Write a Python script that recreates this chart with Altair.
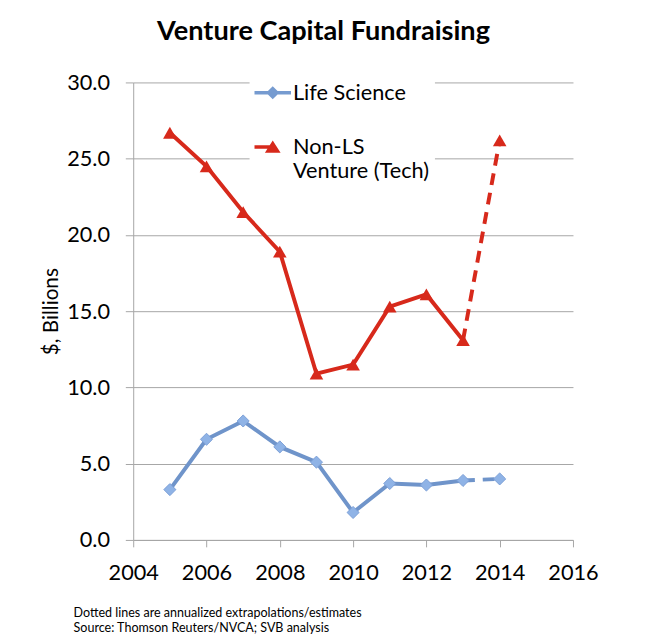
import altair as alt
import pandas as pd

years = [2005, 2006, 2007, 2008, 2009, 2010, 2011, 2012, 2013, 2014]
life_science = [3.3, 6.6, 7.8, 6.1, 5.1, 1.8, 3.7, 3.6, 3.9, 4.0]
non_ls_tech = [26.7, 24.5, 21.5, 18.9, 10.9, 11.5, 15.3, 16.1, 13.1, 26.2]
series_names = ["Life Science", "Non-LS Venture (Tech)"]
series_colors = ["#6f94ca", "#d7291b"]
marker_colors = ["#8fb3e6", "#d7291b"]
last_actual_year = 2013
x_ticks = [2004, 2006, 2008, 2010, 2012, 2014, 2016]
y_ticks = [0, 5, 10, 15, 20, 25, 30]
title_text = "Venture Capital Fundraising"
y_title = "$, Billions"
footnote = ["Dotted lines are annualized extrapolations/estimates",
            "Source: Thomson Reuters/NVCA; SVB analysis"]

rows = []
for y, v in zip(years, life_science):
    rows.append({"year": y, "value": v, "series": series_names[0]})
for y, v in zip(years, non_ls_tech):
    rows.append({"year": y, "value": v, "series": series_names[1]})
df = pd.DataFrame(rows)

FONT = "Lato"
GRID = "#a6a6a6"

x_enc = alt.X("year:Q",
              scale=alt.Scale(domain=[2004, 2016], nice=False, zero=False),
              axis=alt.Axis(values=x_ticks, format="d", grid=False,
                            title=footnote, titleFont=FONT, titleFontSize=12.7,
                            titleFontWeight="normal", titleColor="black",
                            titleAnchor="start", titleAlign="left",
                            titleBaseline="alphabetic",
                            titleX=-61, titleY=78, titleLineHeight=15,
                            labelFont=FONT, labelFontSize=22, labelColor="black",
                            labelPadding=16, tickSize=7, tickColor=GRID,
                            domainColor=GRID, labelFlush=False))
y_enc = alt.Y("value:Q",
              scale=alt.Scale(domain=[0, 30], nice=False),
              axis=alt.Axis(values=y_ticks, format=".1f", grid=True,
                            gridColor=GRID, gridWidth=1,
                            title=y_title, titleFont=FONT, titleFontSize=21,
                            titleFontWeight="normal", titleColor="black",
                            titleAngle=-90, titleAlign="center",
                            titleBaseline="middle", titleX=-83, titleY=232,
                            labelFont=FONT, labelFontSize=22, labelColor="black",
                            labelPadding=16, tickSize=8, tickColor=GRID,
                            domainColor=GRID))

color_scale = alt.Scale(domain=series_names, range=series_colors)

base = alt.Chart(df)

solid = base.transform_filter(alt.datum.year <= last_actual_year).mark_line(
    strokeWidth=4).encode(
    x=x_enc, y=y_enc,
    color=alt.Color("series:N", scale=color_scale, legend=None),
    detail="series:N")

dashed = base.transform_filter(alt.datum.year >= last_actual_year).mark_line(
    strokeWidth=4, strokeDash=[12, 8]).encode(
    x=x_enc, y=y_enc,
    color=alt.Color("series:N", scale=color_scale, legend=None),
    detail="series:N")

pts_ls = base.transform_filter(alt.datum.series == series_names[0]).mark_point(
    shape="diamond", filled=True, size=150, opacity=1,
    color=marker_colors[0], stroke="#7c9fd6", strokeWidth=1).encode(x=x_enc, y=y_enc)

pts_tech = base.transform_filter(alt.datum.series == series_names[1]).mark_point(
    shape="triangle-up", filled=True, size=190, opacity=1,
    color=marker_colors[1]).encode(x=x_enc, y=y_enc)

# legend glyphs: a short line with the series marker on it (clockwise subpaths)
diamond_path = ("M-1,-0.48L1,-0.48L1,-0.28L-1,-0.28Z"
                "M0,-0.74L0.36,-0.38L0,-0.02L-0.36,-0.38Z")
triangle_path = ("M-1,-0.48L0,-0.48L0,-0.28L-1,-0.28Z"
                 "M0,-0.74L0.43,-0.06L-0.43,-0.06Z")

legend_def = alt.Legend(
    orient="none", legendX=118, legendY=-6,
    title=None, fillColor="white", padding=5,
    symbolSize=1369, symbolStrokeWidth=0, symbolOpacity=1,
    labelFont=FONT, labelFontSize=22, labelColor="black",
    labelBaseline="alphabetic", labelOffset=2,
    labelLimit=300, rowPadding=32,
    labelExpr="datum.label == 'Non-LS Venture (Tech)' ? ['Non-LS', 'Venture (Tech)'] : datum.label")

legend_layer = base.mark_point(filled=True, opacity=0).encode(
    x=x_enc, y=y_enc,
    fill=alt.Fill("series:N", scale=alt.Scale(domain=series_names, range=["#769bd0", "#d7291b"]),
                  legend=legend_def),
    shape=alt.Shape("series:N", scale=alt.Scale(domain=series_names,
                                                range=[diamond_path, triangle_path]),
                    legend=legend_def),
)

chart = alt.layer(solid, dashed, pts_ls, pts_tech, legend_layer).resolve_legend(
    fill="independent", shape="independent"
).properties(
    width=446, height=464,
    autosize=alt.AutoSizeParams(type="none"),
    padding={"left": 127, "top": 71, "right": 70, "bottom": 97},
    title=alt.TitleParams(title_text, font=FONT, fontSize=27.5, fontWeight="bold",
                          color="black", anchor="middle", dx=-30, offset=5,
                          baseline="alphabetic"),
).configure_view(stroke=None)

chart.save("out.html", embed_options={"renderer": "svg", "actions": False})
